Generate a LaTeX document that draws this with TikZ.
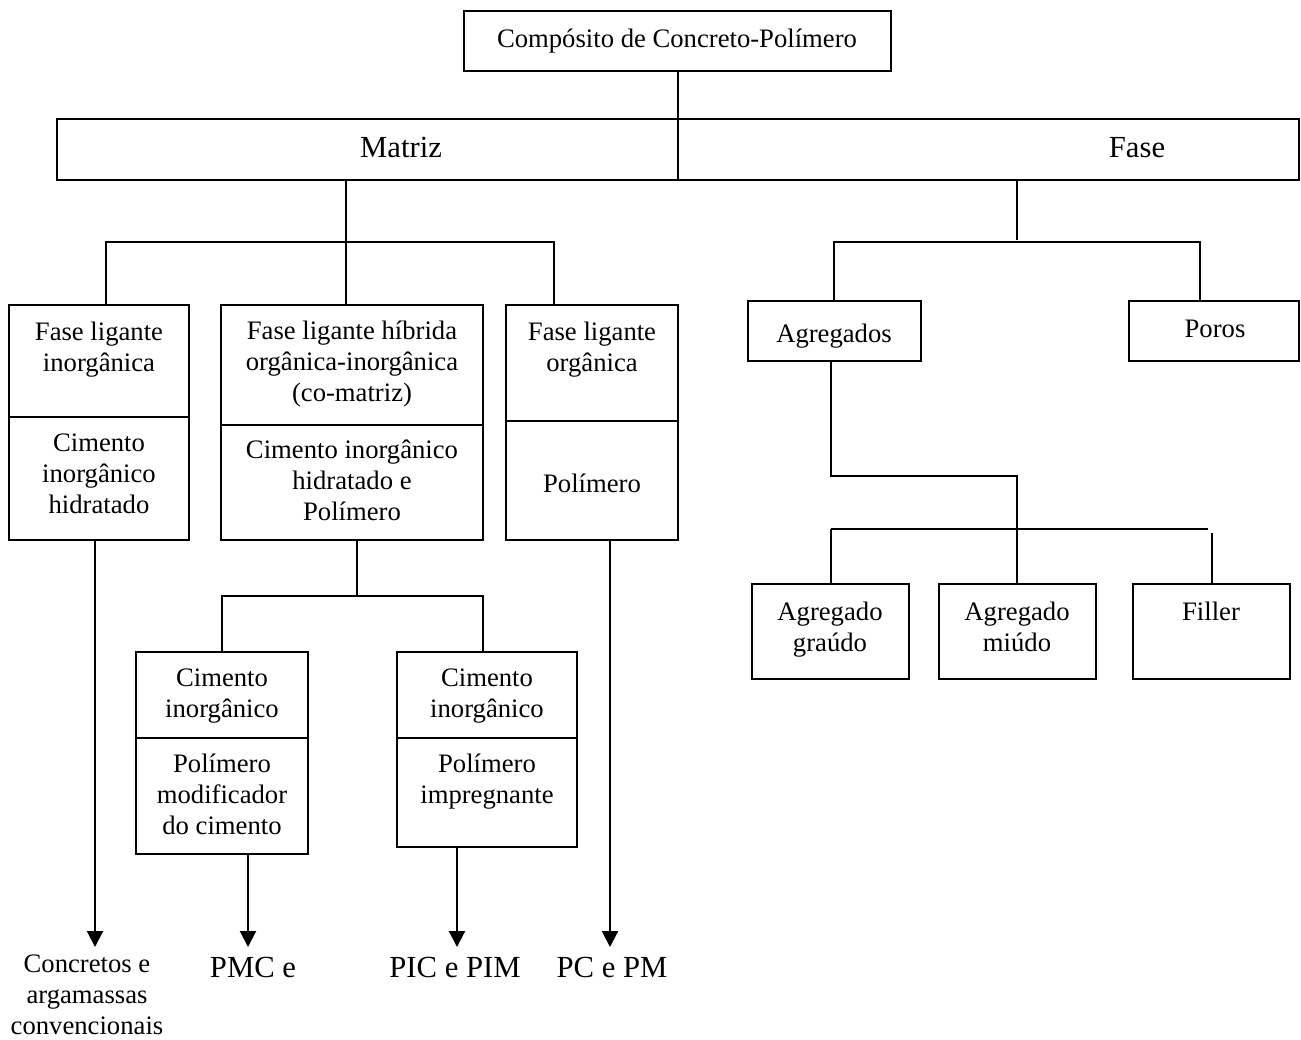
\documentclass[tikz,border=0pt]{standalone}
\usepackage{fontspec}
\setmainfont{Liberation Serif}
\usetikzlibrary{arrows.meta,fit}
\begin{document}
\begin{tikzpicture}[x=0.75pt,y=-0.75pt,
  box/.style={draw, line width=1.5pt, inner sep=0pt},
  txt/.style={font=\fontsize{20}{23}\selectfont, align=center, inner sep=0pt, anchor=base},
  bigtxt/.style={font=\fontsize{23}{27}\selectfont, align=center, inner sep=0pt, anchor=base},
  ln/.style={line width=1.5pt},
  arr/.style={line width=1.5pt, -{Triangle[length=12pt,width=12pt]}}]
\useasboundingbox (0,0) rectangle (1301,1039);

% boxes
\node[box, fit={(464,11) (891,71)}] (top) {};
\node[box, fit={(57,119) (1299,180)}] (mf) {};
\node[box, fit={(9,305) (189,540)}] (L1) {};
\node[box, fit={(221,305) (483,540)}] (L2) {};
\node[box, fit={(506,305) (678,540)}] (L3) {};
\node[box, fit={(748,301) (921,361)}] (ag) {};
\node[box, fit={(1129,301) (1299,361)}] (po) {};
\node[box, fit={(752,584) (909,679)}] (gr) {};
\node[box, fit={(939,584) (1096,679)}] (mi) {};
\node[box, fit={(1133,584) (1290,679)}] (fi) {};
\node[box, fit={(136,652) (308,854)}] (bA) {};
\node[box, fit={(397,652) (577,847)}] (bB) {};

% dividers
\draw[ln] (mf.north -| 678,0) -- (mf.south -| 678,0);
\draw[ln] (L1.west |- 0,417) -- (L1.east |- 0,417);
\draw[ln] (L2.west |- 0,425) -- (L2.east |- 0,425);
\draw[ln] (L3.west |- 0,421) -- (L3.east |- 0,421);
\draw[ln] (bA.west |- 0,738) -- (bA.east |- 0,738);
\draw[ln] (bB.west |- 0,738) -- (bB.east |- 0,738);

% texts (anchor = baseline of last line)
\node[txt] (ttop) at (677,47) {Compósito de Concreto-Polímero};
\node[bigtxt] (tmat) at (401,157) {Matriz};
\node[bigtxt] (tfas) at (1137,157) {Fase};
\node[txt] (tL1a) at (99,371) {Fase ligante\\inorgânica};
\node[txt] (tL1b) at (99,513) {Cimento\\inorgânico\\hidratado};
\node[txt] (tL2a) at (352,401) {Fase ligante híbrida\\orgânica-inorgânica\\(co-matriz)};
\node[txt] (tL2b) at (352,520) {Cimento inorgânico\\hidratado e\\Polímero};
\node[txt] (tL3a) at (592,371) {Fase ligante\\orgânica};
\node[txt] (tL3b) at (592,492) {Polímero};
\node[txt] (tag) at (834,342) {Agregados};
\node[txt] (tpo) at (1215,337) {Poros};
\node[txt] (tgr) at (830,651) {Agregado\\graúdo};
\node[txt] (tmi) at (1017,651) {Agregado\\miúdo};
\node[txt] (tfi) at (1211,620) {Filler};
\node[txt] (tAa) at (222,717) {Cimento\\inorgânico};
\node[txt] (tAb) at (222,834) {Polímero\\modificador\\do cimento};
\node[txt] (tBa) at (487,717) {Cimento\\inorgânico};
\node[txt] (tBb) at (487,803) {Polímero\\impregnante};

% output labels
\node[txt] (o1) at (87,1034) {Concretos e\\argamassas\\convencionais};
\node[bigtxt] (o2) at (253,977) {PMC e};
\node[bigtxt] (o3) at (455,977) {PIC e PIM};
\node[bigtxt] (o4) at (612,977) {PC e PM};
\coordinate (e1) at (95,947);
\coordinate (e2) at (248,947);
\coordinate (e3) at (457,947);
\coordinate (e4) at (610,947);

% connectors
\draw[ln] (top.south) -- (mf.north -| top.south);
\draw[ln] (mf.south -| 346,0) -- (L2.north -| 346,0);
\draw[ln] (L1.north -| 106,0) -- (106,242) -- (554,242) -- (L3.north -| 554,0);
\draw[ln] (mf.south -| 1017,0) -- (1017,240);
\draw[ln] (ag.north -| 834,0) -- (834,242) -- (1200,242) -- (po.north -| 1200,0);
\draw[ln] (ag.south -| 831,0) -- (831,476) -- (1017,476) -- (mi.north -| 1017,0);
\draw[ln] (831,529) -- (1208,529);
\draw[ln] (831,529) -- (gr.north -| 831,0);
\draw[ln] (1212,533) -- (fi.north -| 1212,0);
\draw[ln] (L2.south -| 357,0) -- (357,596);
\draw[ln] (bA.north) -- (222,596) -- (483,596) -- (bB.north -| 483,0);

% arrows
\draw[arr] (L1.south -| e1) -- (e1);
\draw[arr] (bA.south -| e2) -- (e2);
\draw[arr] (bB.south -| e3) -- (e3);
\draw[arr] (L3.south -| e4) -- (e4);
\end{tikzpicture}
\end{document}
